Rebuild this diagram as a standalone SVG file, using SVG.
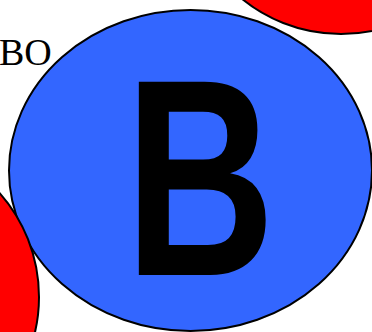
<svg xmlns="http://www.w3.org/2000/svg" width="372" height="332" viewBox="0 0 372 332">
  <style>
    .red { fill: #FF0000; stroke: #000000; stroke-width: 2; }
    .blue { fill: #3366FF; stroke: #000000; stroke-width: 2; }
    .big { font-family: "Liberation Sans", Arial, sans-serif; font-weight: bold; font-size: 281px; fill: #000000; }
    .label { font-family: "Liberation Serif", "Times New Roman", serif; font-size: 38px; fill: #000000; }
  </style>
  <rect width="372" height="332" fill="#FFFFFF"/>
  <g id="label-bo">
    <text class="label" x="-1" y="65">BO</text>
  </g>
  <g id="node-b">
    <ellipse class="blue" cx="190.5" cy="170.5" rx="181.5" ry="160.5"/>
    <text class="big" text-anchor="middle" transform="translate(200,275) scale(0.74,1)">B</text>
  </g>
  <g id="node-red-top">
    <circle class="red" cx="341" cy="-123" r="157"/>
  </g>
  <g id="node-red-bottom">
    <circle class="red" cx="-118" cy="297" r="157"/>
  </g>
  <g id="connectors"/>
</svg>
